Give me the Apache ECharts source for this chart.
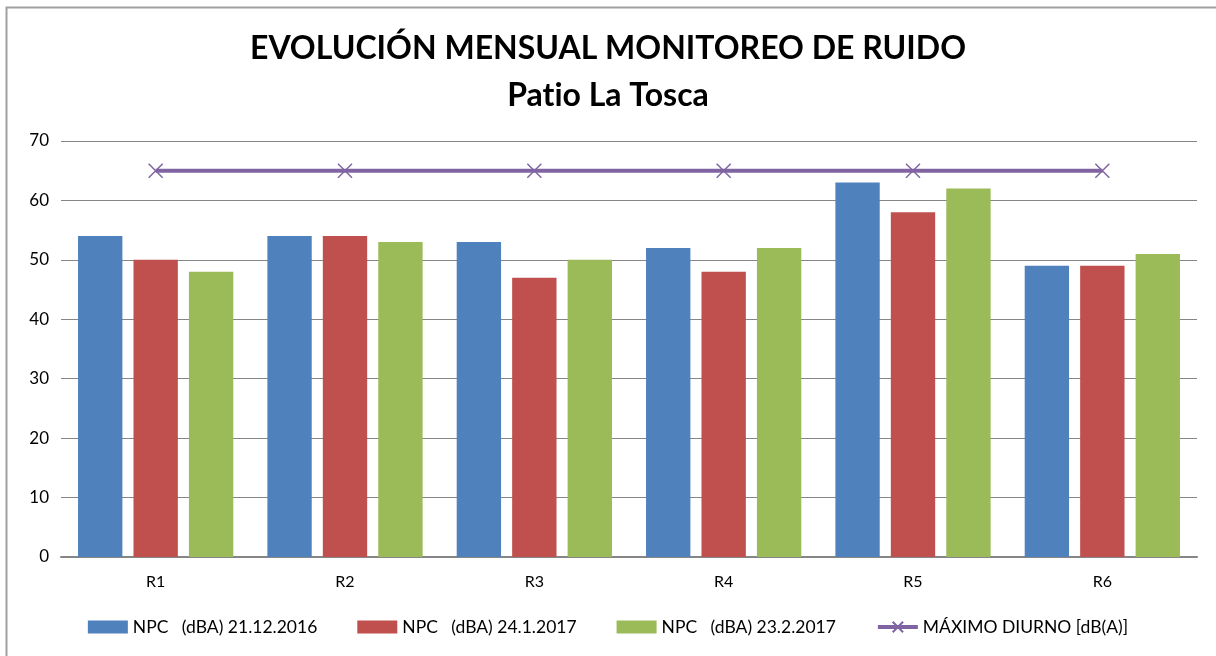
<!DOCTYPE html>
<html>
<head>
<meta charset="utf-8">
<script src="https://cdn.jsdelivr.net/npm/echarts@6/dist/echarts.min.js"></script>
<style>
  html, body { margin: 0; padding: 0; background: #fff; }
  #chart { width: 1216px; height: 656px; }
</style>
</head>
<body>
<div id="chart"></div>
<script>
// chart data
var categories = ['R1', 'R2', 'R3', 'R4', 'R5', 'R6'];
var npcDic2016 = [54, 54, 53, 52, 63, 49];
var npcJan2017 = [50, 54, 47, 48, 58, 49];
var npcFeb2017 = [48, 53, 50, 52, 62, 51];
var maxDiurno = [65, 65, 65, 65, 65, 65];
var seriesNames = [
    'NPC   (dBA) 21.12.2016',
    'NPC   (dBA) 24.1.2017',
    'NPC   (dBA) 23.2.2017',
    'MÁXIMO DIURNO [dB(A)]'
];

var font = 'Lato, "Open Sans", sans-serif';
var chart = echarts.init(document.getElementById('chart'));

function bar(name, data, color) {
    return {
        name: name,
        type: 'bar',
        data: data,
        barGap: '25%',
        barCategoryGap: '18%',
        itemStyle: { color: color }
    };
}

chart.setOption({
    animation: false,
    textStyle: { fontFamily: font },
    graphic: [{
        type: 'rect',
        shape: { x: 6.5, y: 7.5, width: 1300, height: 700 },
        style: { fill: null, stroke: '#a0a0a0', lineWidth: 2 },
        silent: true
    }],
    title: [{
        text: 'EVOLUCIÓN MENSUAL MONITOREO DE RUIDO',
        left: 'center',
        top: 28,
        textStyle: { fontFamily: font, fontSize: 32, fontWeight: 'bold', color: '#000' }
    }, {
        // zero-width non-joiner keeps Lato from drawing a "ti" ligature
        text: 'Pat\u200Cio La Tosca',
        left: 'center',
        top: 75,
        textStyle: { fontFamily: font, fontSize: 32, fontWeight: 'bold', color: '#000' }
    }],
    legend: {
        bottom: 15,
        left: 'center',
        itemGap: 40,
        itemWidth: 40,
        itemHeight: 13,
        textStyle: { fontFamily: font, fontSize: 17.5, color: '#000' },
        data: [
            { name: seriesNames[0], icon: 'rect' },
            { name: seriesNames[1], icon: 'rect' },
            { name: seriesNames[2], icon: 'rect' },
            { name: seriesNames[3], lineStyle: { width: 4 } }
        ]
    },
    grid: { left: 61, right: 19, top: 141, bottom: 99, containLabel: false },
    xAxis: {
        type: 'category',
        data: categories,
        axisTick: { show: false },
        axisLine: { lineStyle: { color: '#868686', width: 2 } },
        axisLabel: { color: '#000', fontSize: 16, margin: 17, fontFamily: font }
    },
    yAxis: {
        type: 'value',
        min: 0,
        max: 70,
        interval: 10,
        axisLine: { show: false },
        axisTick: { show: false },
        axisLabel: { color: '#000', fontSize: 17, margin: 12, fontFamily: font },
        splitLine: { lineStyle: { color: '#868686', width: 1 } }
    },
    series: [
        bar(seriesNames[0], npcDic2016, '#4f81bd'),
        bar(seriesNames[1], npcJan2017, '#c0504d'),
        bar(seriesNames[2], npcFeb2017, '#9bbb59'),
        {
            name: seriesNames[3],
            type: 'line',
            data: maxDiurno,
            symbol: 'path://M0,0 L10,10 M10,0 L0,10',
            symbolSize: 14,
            lineStyle: { color: '#8064a2', width: 4 },
            itemStyle: { color: '#8064a2', borderColor: '#8064a2', borderWidth: 1.5 },
            z: 5
        }
    ]
});
</script>
</body>
</html>
